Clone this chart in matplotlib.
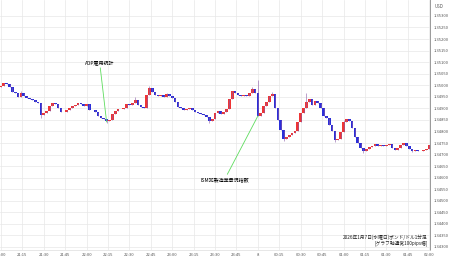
"""GBP/USD 1-minute chart, 2026-01-07 (ADP / ISM services)."""
import numpy as np
import matplotlib

matplotlib.use("Agg")
import matplotlib.pyplot as plt  # noqa: E402

plt.rcParams["font.family"] = ["Noto Sans CJK JP", "DejaVu Sans"]

# closes every 2 minutes from 21:00 (minutes since 21:00 = 2 * index)
first_open = 1.34992
closes = [
    1.34997, 1.35010, 1.35005, 1.34992, 1.34971, 1.34966, 1.34949, 1.34966, 1.34953, 1.34945,
    1.34940, 1.34936, 1.34927, 1.34923, 1.34871, 1.34880, 1.34888, 1.34910, 1.34923, 1.34919,
    1.34901, 1.34884, 1.34886, 1.34893, 1.34901, 1.34910, 1.34914, 1.34923, 1.34919, 1.34910,
    1.34919, 1.34893, 1.34895, 1.34884, 1.34867, 1.34858, 1.34854, 1.34845, 1.34849, 1.34875,
    1.34888, 1.34897, 1.34899, 1.34901, 1.34919, 1.34914, 1.34923, 1.34936, 1.34914, 1.34906,
    1.34901, 1.34958, 1.34988, 1.34971, 1.34958, 1.34953, 1.34958, 1.34949, 1.34962, 1.34953,
    1.34945, 1.34927, 1.34906, 1.34901, 1.34893, 1.34897, 1.34901, 1.34893, 1.34884, 1.34880,
    1.34875, 1.34871, 1.34862, 1.34845, 1.34854, 1.34880, 1.34888, 1.34875, 1.34884, 1.34897,
    1.34940, 1.34975, 1.34966, 1.34958, 1.34953, 1.34958, 1.34953, 1.34966, 1.34984, 1.34966,
    1.34867, 1.34880, 1.34910, 1.34927, 1.34953, 1.34962, 1.34901, 1.34849, 1.34806, 1.34767,
    1.34776, 1.34784, 1.34793, 1.34802, 1.34841, 1.34880, 1.34901, 1.34927, 1.34940, 1.34914,
    1.34932, 1.34923, 1.34901, 1.34867, 1.34858, 1.34828, 1.34802, 1.34763, 1.34767, 1.34797,
    1.34841, 1.34854, 1.34845, 1.34815, 1.34776, 1.34750, 1.34728, 1.34715, 1.34724, 1.34732,
    1.34737, 1.34745, 1.34737, 1.34741, 1.34737, 1.34741, 1.34745, 1.34728, 1.34720, 1.34728,
    1.34741, 1.34750, 1.34737, 1.34724, 1.34715, 1.34720, 1.34715, 1.34717, 1.34720, 1.34724,
    1.34741,
]
# visible wick extremes (candle index -> price)
spike_highs = {7: 1.34975, 47: 1.34949, 52: 1.34997, 58: 1.34966, 88: 1.34992,
               90: 1.35023, 95: 1.34971, 107: 1.34966, 120: 1.34849}
spike_lows = {14: 1.34858, 37: 1.34836, 73: 1.34836, 99: 1.34758, 117: 1.34754,
              127: 1.34706, 144: 1.34711}

events = ["ADP雇用統計", "ISM非製造業景況指数"]
event_minutes = [74, 180]

tick_minutes = list(range(0, 301, 15))
tick_labels = ["21:00", "21:15", "21:30", "21:45", "22:00", "22:15", "22:30", "22:45",
               "23:00", "23:15", "23:30", "23:45", "8", "00:15", "00:30", "00:45",
               "01:00", "01:15", "01:30", "01:45", "02:00"]
price_ticks = [1.35300 - 0.0005 * i for i in range(21)]

UP, DOWN = "#ee3535", "#2b2fd8"

closes = np.array(closes)
opens = np.r_[first_open, closes[:-1]]
minutes = np.arange(len(closes)) * 2

fig = plt.figure(figsize=(4.5, 2.58), dpi=100)
ax = fig.add_axes([0, 8 / 258, 430 / 450, 250 / 258])

for i, (m, o, c) in enumerate(zip(minutes, opens, closes)):
    col = UP if c >= o else DOWN
    hi = max(o, c, spike_highs.get(i, 0))
    lo = min(o, c, spike_lows.get(i, 9))
    ax.vlines(m, lo, hi, color="#8a5aa8", lw=0.4)
    ax.bar(m, max(abs(c - o), 0.00002), bottom=min(o, c) - 0.000005, width=1.9,
           color=col, linewidth=0)

ax.set_xlim(-0.7, 300.6)
ax.set_ylim(1.34287, 1.35369)
ax.set_xticks(tick_minutes)
ax.set_xticklabels(tick_labels)
ax.set_yticks(price_ticks)
ax.set_yticklabels([f"{p:.5f}" for p in price_ticks])
ax.yaxis.tick_right()
ax.tick_params(length=0, labelsize=3.0, labelcolor="#555555", pad=2)
ax.tick_params(axis="y", pad=2.5)
ax.grid(color="#e8e8e8", lw=0.5)
ax.set_axisbelow(True)
for s in ("top", "left"):
    ax.spines[s].set_visible(False)
ax.spines["right"].set_color("#999999")
ax.spines["bottom"].set_color("#dddddd")
ax.spines["right"].set_linewidth(0.7)
ax.spines["bottom"].set_linewidth(0.5)

ax.text(1.01, 0.975, "USD", transform=ax.transAxes, fontsize=3.2, color="#555555",
        ha="left", va="center")

# event annotations: text offset in points from the event candle
green = "#5ddc5d"
idx = [m // 2 for m in event_minutes]
ax.annotate(events[0], xy=(event_minutes[0], closes[idx[0]] - 0.00004),
            xytext=(-5, 41), textcoords="offset points", ha="center", va="bottom",
            fontsize=3.6, arrowprops=dict(arrowstyle="-", color=green, lw=0.6, shrinkA=0, shrinkB=0))
ax.annotate(events[1], xy=(event_minutes[1], closes[idx[1]]),
            xytext=(-24, -44), textcoords="offset points", ha="center", va="top",
            fontsize=3.6, arrowprops=dict(arrowstyle="-", color=green, lw=0.6, shrinkA=0, shrinkB=0))

ax.text(0.995, 0.04, "2026年1月7日(水曜日)ポンド/ドル1分足\n[グラフ軸通常100pips幅]",
        transform=ax.transAxes, ha="right", va="center", fontsize=3.4,
        linespacing=1.1, color="#222222")

fig.savefig("out.png", dpi=100)
